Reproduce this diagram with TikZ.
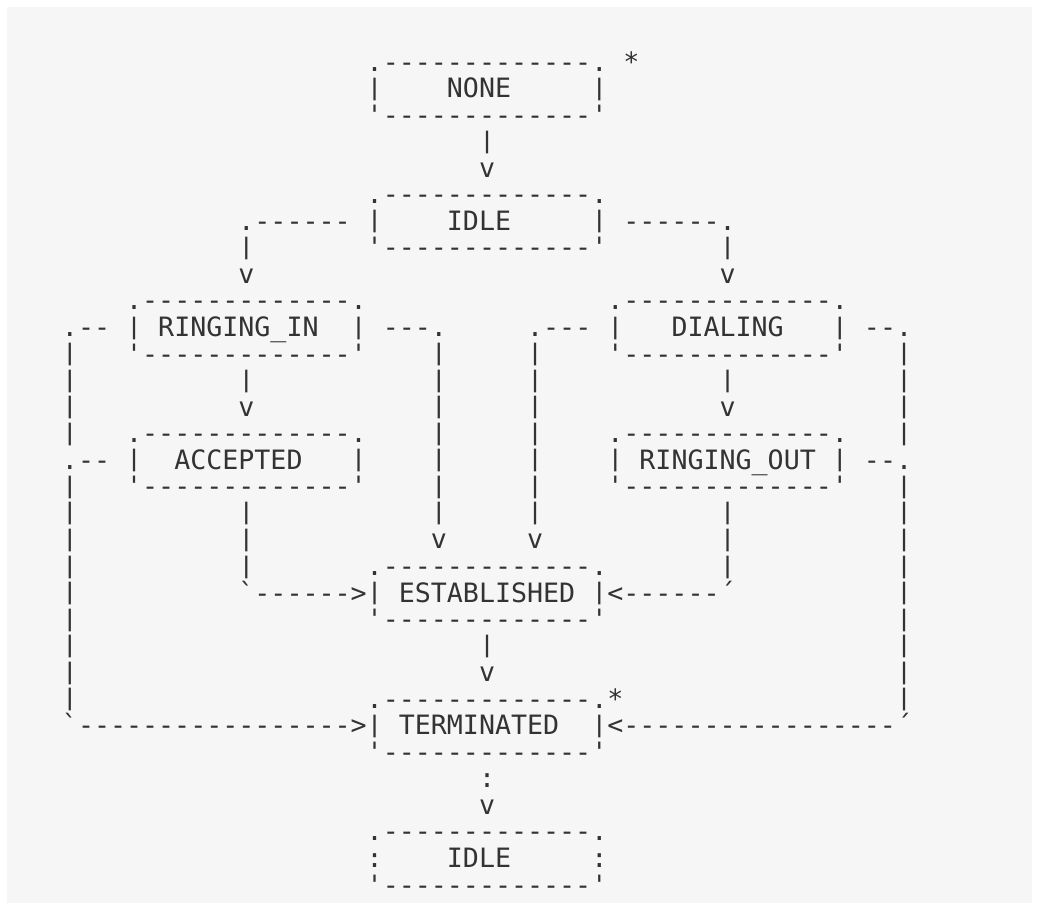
\documentclass[tikz,border=0pt]{standalone}
\usepackage{graphicx}
\usepackage{fontspec}
\setmonofont{DejaVu Sans Mono}
\definecolor{ink}{HTML}{333333}
\definecolor{panel}{HTML}{F6F6F6}

% character grid: column width, left edge of column 0, row pitch, first baseline
\def\cw{16.04}
\def\xl{61.98}
\def\rh{26.55}
\def\yb{71}

\tikzset{
  ascii/.style={anchor=base west, inner sep=0pt, outer sep=0pt, text=ink,
    font=\ttfamily\fontsize{26.64}{26.55}\selectfont},
}

% a vertical bar that leaves a small gap to the rows above and below
\newcommand\VB{\raisebox{0.09em}{\scalebox{1}[0.853]{|}}}

% a run of characters starting at column #2, row #3
\newcommand\chars[4]{\node[ascii] (#1) at ({\xl+\cw*(#2)},{-\yb-\rh*(#3)}) {#4};}

% a state box three rows high: name, column, label row, label column, label, side glyph
\newcommand\statebox[6]{%
  \chars{#1-t}{#2}{#3-1}{.-------------.}
  \chars{#1-l}{#2}{#3}{#6}
  \chars{#1}{#4}{#3}{#5}
  \chars{#1-r}{#2+14}{#3}{#6}
  \chars{#1-b}{#2}{#3+1}{'-------------'}
}

\begin{document}
\begin{tikzpicture}[x=1pt,y=1pt]
\useasboundingbox (0,0) rectangle (1039,-910);
\fill[white] (0,0) rectangle (1039,-910);
\fill[panel] (7,-7) rectangle (1032,-903);

% states
\statebox{none}{19}{1}{24}{NONE}{\VB}
\chars{none-star}{35}{0}{*}
\statebox{idle}{19}{6}{24}{IDLE}{\VB}
\statebox{ringin}{4}{10}{6}{RINGING\_IN}{\VB}
\statebox{dialing}{34}{10}{38}{DIALING}{\VB}
\statebox{accepted}{4}{15}{7}{ACCEPTED}{\VB}
\statebox{ringout}{34}{15}{36}{RINGING\_OUT}{\VB}
\statebox{established}{19}{20}{21}{ESTABLISHED}{\VB}
\statebox{terminated}{19}{25}{21}{TERMINATED}{\VB}
\chars{terminated-star}{34}{24}{*}
\statebox{idle2}{19}{30}{24}{IDLE}{:}

% NONE -> IDLE
\chars{n-i-1}{26}{3}{\VB}
\chars{n-i-2}{26}{4}{v}

% IDLE -> RINGING_IN / DIALING
\chars{i-r-1}{11}{6}{.------}
\chars{i-r-2}{11}{7}{\VB}
\chars{i-r-3}{11}{8}{v}
\chars{i-d-1}{35}{6}{------.}
\chars{i-d-2}{41}{7}{\VB}
\chars{i-d-3}{41}{8}{v}

% RINGING_IN -> ACCEPTED, DIALING -> RINGING_OUT
\chars{r-a-1}{11}{12}{\VB}
\chars{r-a-2}{11}{13}{v}
\chars{d-o-1}{41}{12}{\VB}
\chars{d-o-2}{41}{13}{v}

% RINGING_IN / DIALING -> ESTABLISHED
\chars{r-e-0}{20}{10}{---.}
\chars{d-e-0}{29}{10}{.---}
\foreach \r in {11,...,17} {
  \chars{r-e-\r}{23}{\r}{\VB}
  \chars{d-e-\r}{29}{\r}{\VB}
}
\chars{r-e-v}{23}{18}{v}
\chars{d-e-v}{29}{18}{v}

% ACCEPTED / RINGING_OUT -> ESTABLISHED
\foreach \r in {17,18,19} {
  \chars{a-e-\r}{11}{\r}{\VB}
  \chars{o-e-\r}{41}{\r}{\VB}
}
\chars{a-e-h}{11}{20}{`------>}
\chars{o-e-h}{34}{20}{<------´}

% ESTABLISHED -> TERMINATED
\chars{e-t-1}{26}{22}{\VB}
\chars{e-t-2}{26}{23}{v}

% outer loops into TERMINATED
\chars{lo-a}{0}{10}{.--}
\chars{lo-b}{0}{15}{.--}
\chars{ro-a}{50}{10}{--.}
\chars{ro-b}{50}{15}{--.}
\foreach \r in {11,...,14,16,17,...,24} {
  \chars{lo-\r}{0}{\r}{\VB}
  \chars{ro-\r}{52}{\r}{\VB}
}
\chars{lo-h}{0}{25}{`----------------->}
\chars{ro-h}{34}{25}{<-----------------´}

% TERMINATED -> IDLE
\chars{t-i-1}{26}{27}{:}
\chars{t-i-2}{26}{28}{v}
\end{tikzpicture}
\end{document}
